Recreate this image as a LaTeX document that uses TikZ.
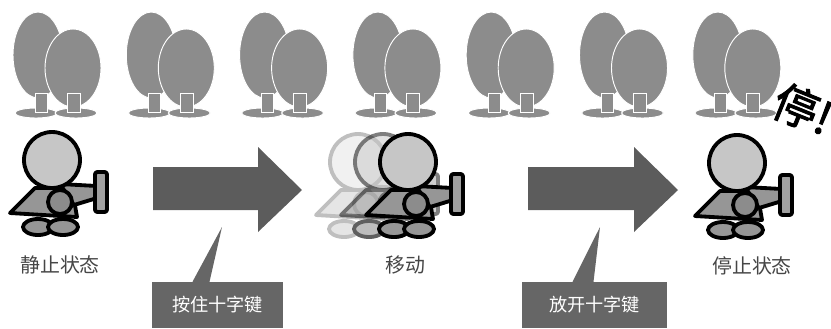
\documentclass[tikz,border=0pt]{standalone}
\usepackage{fontspec}
\newfontfamily\cjk{Noto Sans CJK SC}
\newfontfamily\cjkbold[FakeBold=2]{Noto Sans CJK SC}
\definecolor{treeGray}{RGB}{140,140,140}
\definecolor{arrowGray}{RGB}{92,92,92}
\definecolor{boxGray}{RGB}{102,102,102}
\definecolor{headGray}{RGB}{198,198,198}
\definecolor{bodyGray}{RGB}{150,150,150}
\definecolor{labelGray}{RGB}{70,70,70}

% a pair of trees, origin at the left edge of the back tree
\tikzset{
  pics/trees/.style={code={
    \path[tree] (25,55) ellipse [x radius=25, y radius=43];
    \path[tree] (23,113) ellipse [x radius=21, y radius=5];
    \path[tree] (22,93) rectangle (34,112);
    \path[tree] (60,68) ellipse [x radius=28, y radius=39];
    \path[tree] (63,113) ellipse [x radius=21, y radius=5];
    \path[tree] (54,93) rectangle (67,112);
  }},
  % the little walker, origin at the centre of the head
  pics/kid/.style={code={
    \path[kidline,fill=bodyGray] (-14,67) ellipse [x radius=15, y radius=8];
    \path[kidline,fill=bodyGray] (11,67) ellipse [x radius=15, y radius=8];
    \path[kidline,fill=bodyGray] (-42,53) -- (-17,28) -- (20,28) -- (25,57) -- cycle;
    \path[kidline,fill=bodyGray] (8,24) -- (45,26) -- (45,38) -- (22,45) -- cycle;
    \path[kidline,fill=bodyGray!90,rounded corners=2] (43,12) rectangle (55,52);
    \path[kidline,fill=headGray] (0,0) circle [radius=28];
    \path[kidline,fill=treeGray] (8,42) circle [radius=12];
  }}
}

\begin{document}
\begin{tikzpicture}[x=0.3mm,y=-0.3mm,
  tree/.style={fill=treeGray,draw=white,line width=0.8pt},
  kidline/.style={draw=black,line width=1.15mm,line join=round},
  bigarrow/.style={fill=arrowGray},
  callout/.style={fill=boxGray,text=white,font=\cjk\fontsize{15.5}{15.5}\selectfont,
    minimum width=131*0.3mm,minimum height=46*0.3mm,inner sep=0pt},
  caption/.style={text=labelGray,font=\cjk\fontsize{17}{17}\selectfont}]
\useasboundingbox (0,0) rectangle (831,328);

% Row of trees
\foreach \i in {0,...,6}
  \pic at ({13+113.3*\i},0) {trees};

% Standing still
\pic at (52,160) {kid};
\node[caption] (still) at (60,265) {静止状态};

% Walking, with two fading copies behind
\begin{scope}[opacity=0.25,transparency group]
  \pic at (358,162) {kid};
\end{scope}
\begin{scope}[opacity=0.5,transparency group]
  \pic at (383,162) {kid};
\end{scope}
\pic at (408,162) {kid};
\node[caption] (move) at (405,265) {移动};

% Stopped
\pic at (737,163) {kid};
\node[caption] (stop) at (752,266) {停止状态};
\node[rotate=-22,font=\cjkbold\fontsize{38}{38}\selectfont] (halt) at (803,109) {停!};

% Block arrows
\fill[bigarrow] (153,167) -- (258,167) -- (258,147) -- (302,190)
  -- (258,232) -- (258,210) -- (153,210) -- cycle;
\fill[bigarrow] (528,167) -- (634,167) -- (634,147) -- (678,190)
  -- (634,232) -- (634,210) -- (528,210) -- cycle;

% Key callouts
\node[callout] (press) at (217.5,305) {按住十字键};
\coordinate (pressTip) at (222,227);
\fill[boxGray] ([xshift=-25*0.3mm]press.north) -- (pressTip)
  -- ([xshift=-8*0.3mm]press.north) -- cycle;

\node[callout,minimum width=145*0.3mm] (release) at (594.5,305) {放开十字键};
\coordinate (releaseTip) at (600,227);
\fill[boxGray] ([xshift=-22*0.3mm]release.north) -- (releaseTip)
  -- ([xshift=-1*0.3mm]release.north) -- cycle;
\end{tikzpicture}
\end{document}
